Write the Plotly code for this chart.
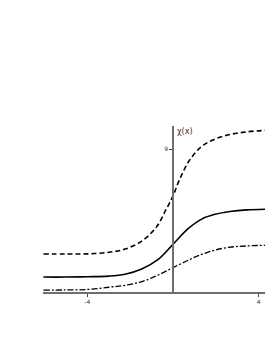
import plotly.graph_objects as go

x_vals = [-6.05, -5.0, -4.0, -3.0, -2.24, -1.46, -0.69, 0.0, 0.72, 1.34, 1.96, 2.66, 3.44, 4.7]
solid_vals = [0.94, 0.94, 0.96, 1.0, 1.12, 1.45, 2.05, 3.0, 4.0, 4.59, 4.89, 5.07, 5.17, 5.22]
dashdot_vals = [0.12, 0.13, 0.16, 0.3, 0.42, 0.65, 1.07, 1.53, 2.01, 2.37, 2.64, 2.82, 2.9, 2.95]

x_dash = [-6.05, -5.0, -4.0, -3.0, -2.24, -1.46, -0.77, -0.32, 0.0, 0.33, 0.8, 1.42, 2.35, 3.44, 4.7]
dash_vals = [2.39, 2.39, 2.4, 2.5, 2.7, 3.2, 4.1, 5.2, 6.05, 7.15, 8.35, 9.25, 9.81, 10.08, 10.2]

x_ticks = [-4, 4]
x_ticklabels = ["-4", "4"]
y_ticks = [9]
y_ticklabels = ["9"]

fig = go.Figure()
fig.add_trace(go.Scatter(x=x_dash, y=dash_vals, mode="lines", line=dict(color="black", width=1.6, dash="5px,3px", shape="spline", smoothing=1.0)))
fig.add_trace(go.Scatter(x=x_vals, y=solid_vals, mode="lines", line=dict(color="black", width=1.6, shape="spline", smoothing=1.0)))
fig.add_trace(go.Scatter(x=x_vals, y=dashdot_vals, mode="lines", line=dict(color="black", width=1.3, dash="6px,2px,2px,2px", shape="spline", smoothing=1.0)))

fig.update_layout(
    width=265, height=345,
    margin=dict(l=35, r=0, t=118, b=61),
    plot_bgcolor="white", paper_bgcolor="white",
    showlegend=False,
    xaxis=dict(range=[-6.07, 4.67], showgrid=False, zeroline=False, showline=True,
               linecolor="#6e6e6e", linewidth=1.5, ticks="outside", ticklen=3, tickcolor="#444",
               tickvals=x_ticks, ticktext=x_ticklabels, tickfont=dict(size=6, color="#333", family="DejaVu Sans")),
    yaxis=dict(range=[0, 10.45], showgrid=False, zeroline=False, showline=True,
               anchor="free", position=(173 - 43) / 230,
               linecolor="#6e6e6e", linewidth=1.5, ticks="outside", ticklen=3, tickcolor="#444",
               tickvals=y_ticks, ticktext=y_ticklabels, tickfont=dict(size=6, color="#333", family="DejaVu Sans")),
)
fig.add_annotation(x=0, y=10.45, xref="x", yref="y", text="χ(x)", showarrow=False,
                   xanchor="left", yanchor="top", xshift=2, yshift=1,
                   font=dict(size=8, color="#333", family="DejaVu Sans"))
fig.write_html("out.html")
